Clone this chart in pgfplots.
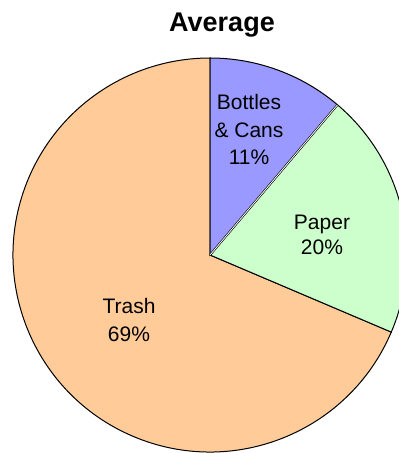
\documentclass[border=0pt]{standalone}
\usepackage{pgfplots}
\pgfplotsset{compat=1.18}
\usepackage{pgfplotstable}
\usepackage{fontspec}
\setmainfont{Liberation Sans}
\definecolor{bottlecol}{HTML}{9999FF}
\definecolor{papercol}{HTML}{CCFFCC}
\definecolor{trashcol}{HTML}{FFCC99}
\pgfplotstableread{
label value
Bottles 11.2
Paper 20.2
Trash 68.6
}\piedata
\begin{document}
\begin{tikzpicture}
\pgfplotstablegetelem{0}{value}\of\piedata \let\vA\pgfplotsretval
\pgfplotstablegetelem{1}{value}\of\piedata \let\vB\pgfplotsretval
\pgfplotstablegetelem{2}{value}\of\piedata \let\vC\pgfplotsretval
\pgfmathsetmacro\aA{90}
\pgfmathsetmacro\aB{90-3.6*\vA}
\pgfmathsetmacro\aC{\aB-3.6*\vB}
\pgfmathsetmacro\aD{\aC-3.6*\vC}
\begin{axis}[
  at={(0,0)}, anchor=south west,
  scale only axis, width=399pt, height=453pt,
  xmin=0, xmax=399, ymin=0, ymax=453,
  hide axis, clip=true,
]
\filldraw[fill=trashcol, draw=black, line width=1pt] (axis cs:210,198) -- ++(\aC:197pt) arc[start angle=\aC, end angle=\aD, radius=197pt] -- cycle;
\filldraw[fill=papercol, draw=black, line width=1pt] (axis cs:210,198) -- ++(\aB:197pt) arc[start angle=\aB, end angle=\aC, radius=197pt] -- cycle;
\filldraw[fill=bottlecol, draw=black, line width=1pt] (axis cs:210,198) -- ++(\aA:197pt) arc[start angle=\aA, end angle=\aB, radius=197pt] -- cycle;
\draw[line width=0.6pt, double=white, double distance=0.8pt] (axis cs:210,198) -- ++(\aB:197pt);
\node[font=\fontsize{21}{27.5}\selectfont, align=center, inner sep=0pt] at (axis cs:249,323.5) {Bottles\\\& Cans\\11\%};
\node[font=\fontsize{21}{25}\selectfont, align=center, inner sep=0pt] at (axis cs:322,218) {Paper\\20\%};
\node[font=\fontsize{21}{28}\selectfont, align=center, inner sep=0pt] at (axis cs:129,133.5) {Trash\\69\%};
\end{axis}
\node[font=\bfseries\fontsize{27}{30}\selectfont, anchor=base, inner sep=0pt] at (222pt,421pt) {Average};
\pgfresetboundingbox
\path (0,0) rectangle (399pt,453pt);
\end{tikzpicture}
\end{document}
